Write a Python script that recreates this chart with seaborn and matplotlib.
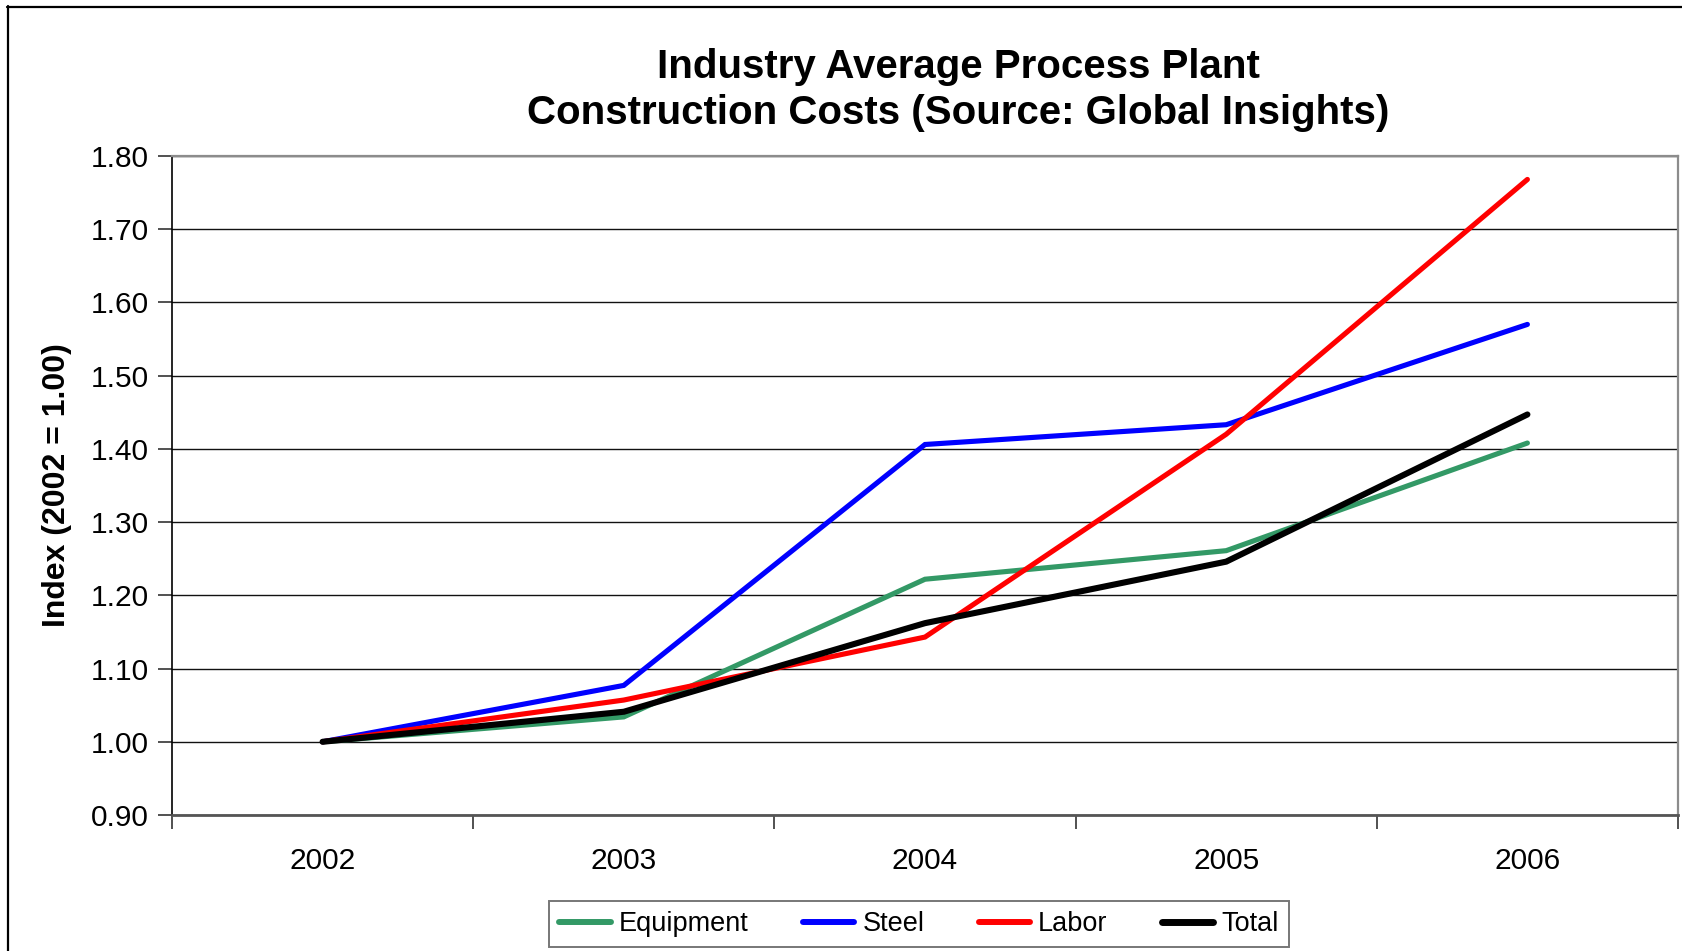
import matplotlib
matplotlib.use("Agg")
import matplotlib.pyplot as plt
from matplotlib.lines import Line2D
import seaborn as sns
import pandas as pd

years = [2002, 2003, 2004, 2005, 2006]
equipment = [1.00, 1.034, 1.222, 1.261, 1.408]
steel = [1.00, 1.077, 1.406, 1.433, 1.570]
labor = [1.00, 1.057, 1.143, 1.420, 1.768]
total = [1.00, 1.041, 1.162, 1.246, 1.447]

series_names = ["Equipment", "Steel", "Labor", "Total"]
series_values = [equipment, steel, labor, total]
series_colors = ["#339966", "#0000FF", "#FF0000", "#000000"]
series_widths = [3.7, 3.7, 3.7, 4.4]

y_ticks = [0.90, 1.00, 1.10, 1.20, 1.30, 1.40, 1.50, 1.60, 1.70, 1.80]

title_text = "Industry Average Process Plant\nConstruction Costs (Source: Global Insights)"
y_label = "Index (2002 = 1.00)"

sns.set_theme(style="white")
plt.rcParams["font.family"] = ["Liberation Sans", "DejaVu Sans"]
plt.rcParams.update({
    "text.color": "black",
    "axes.labelcolor": "black",
    "xtick.color": "black",
    "ytick.color": "black",
})

W, H = 1682, 951
fig = plt.figure(figsize=(W / 100, H / 100), dpi=100)
fig.patch.set_facecolor("white")

left, right, top, bottom = 172, 1678, 156, 815
ax = fig.add_axes([left / W, 1 - bottom / H, (right - left) / W, (bottom - top) / H])

df = pd.DataFrame({
    "Year": years * len(series_names),
    "Index": [v for vals in series_values for v in vals],
    "Series": [n for n in series_names for _ in years],
})

for name, color, lw in zip(series_names, series_colors, series_widths):
    sns.lineplot(data=df[df["Series"] == name], x="Year", y="Index",
                 color=color, linewidth=lw, ax=ax, label=name,
                 solid_joinstyle="miter", legend=False)

ax.set_xlim(years[0] - 0.5, years[-1] + 0.5)
ax.set_ylim(y_ticks[0], y_ticks[-1])
ax.set_yticks(y_ticks)
ax.set_yticklabels([f"{t:.2f}" for t in y_ticks])

# category boundaries carry the tick marks, labels sit at the centres
ax.set_xticks([y - 0.5 for y in years] + [years[-1] + 0.5])
ax.set_xticklabels([])
ax.set_xticks(years, minor=True)
ax.set_xticklabels([str(y) for y in years], minor=True)
ax.tick_params(axis="x", which="major", direction="out", length=10, width=1.2,
               color="#333333", bottom=True)
ax.tick_params(axis="x", which="minor", length=0, pad=23, labelsize=21.5)
ax.tick_params(axis="y", direction="out", length=10, width=1.2, color="#333333",
               left=True, pad=7, labelsize=21.5)

ax.yaxis.grid(True, color="#111111", linewidth=1.0)
ax.xaxis.grid(False)
ax.set_axisbelow(True)

ax.spines["left"].set_color("black")
ax.spines["left"].set_linewidth(1.2)
ax.spines["bottom"].set_color("#555555")
ax.spines["bottom"].set_linewidth(2.0)
for s in ("top", "right"):
    ax.spines[s].set_color("#8c8c8c")
    ax.spines[s].set_linewidth(1.6)

ax.set_xlabel("")
ax.set_ylabel(y_label, fontsize=23, fontweight="bold")
ax.yaxis.set_label_coords((57 - left) / (right - left), 0.5)
ax.yaxis.label.set_verticalalignment("center")

fig.text(958 / W, 1 - 90 / H, title_text, ha="center", va="center",
         fontsize=29, fontweight="bold", linespacing=1.25)

handles = [Line2D([0], [0], color=c, linewidth=lw + 0.6)
           for c, lw in zip(series_colors, series_widths)]
leg = fig.legend(handles, series_names, loc="center",
                 bbox_to_anchor=(919 / W, 1 - 924 / H), ncol=4,
                 fontsize=19.5, frameon=True, fancybox=False,
                 handlelength=1.9, handletextpad=0.3, columnspacing=2.0,
                 borderpad=0.38, borderaxespad=0)
leg.get_frame().set_edgecolor("#555555")
leg.get_frame().set_linewidth(1.4)

# outer chart frame (left and top edges)
fig.add_artist(Line2D([7.5 / W, 7.5 / W], [0, 1 - 6 / H], color="black",
                      linewidth=1.6, transform=fig.transFigure))
fig.add_artist(Line2D([7 / W, 1], [1 - 6.5 / H, 1 - 6.5 / H], color="black",
                      linewidth=1.6, transform=fig.transFigure))

fig.savefig("out.png", dpi=100)
